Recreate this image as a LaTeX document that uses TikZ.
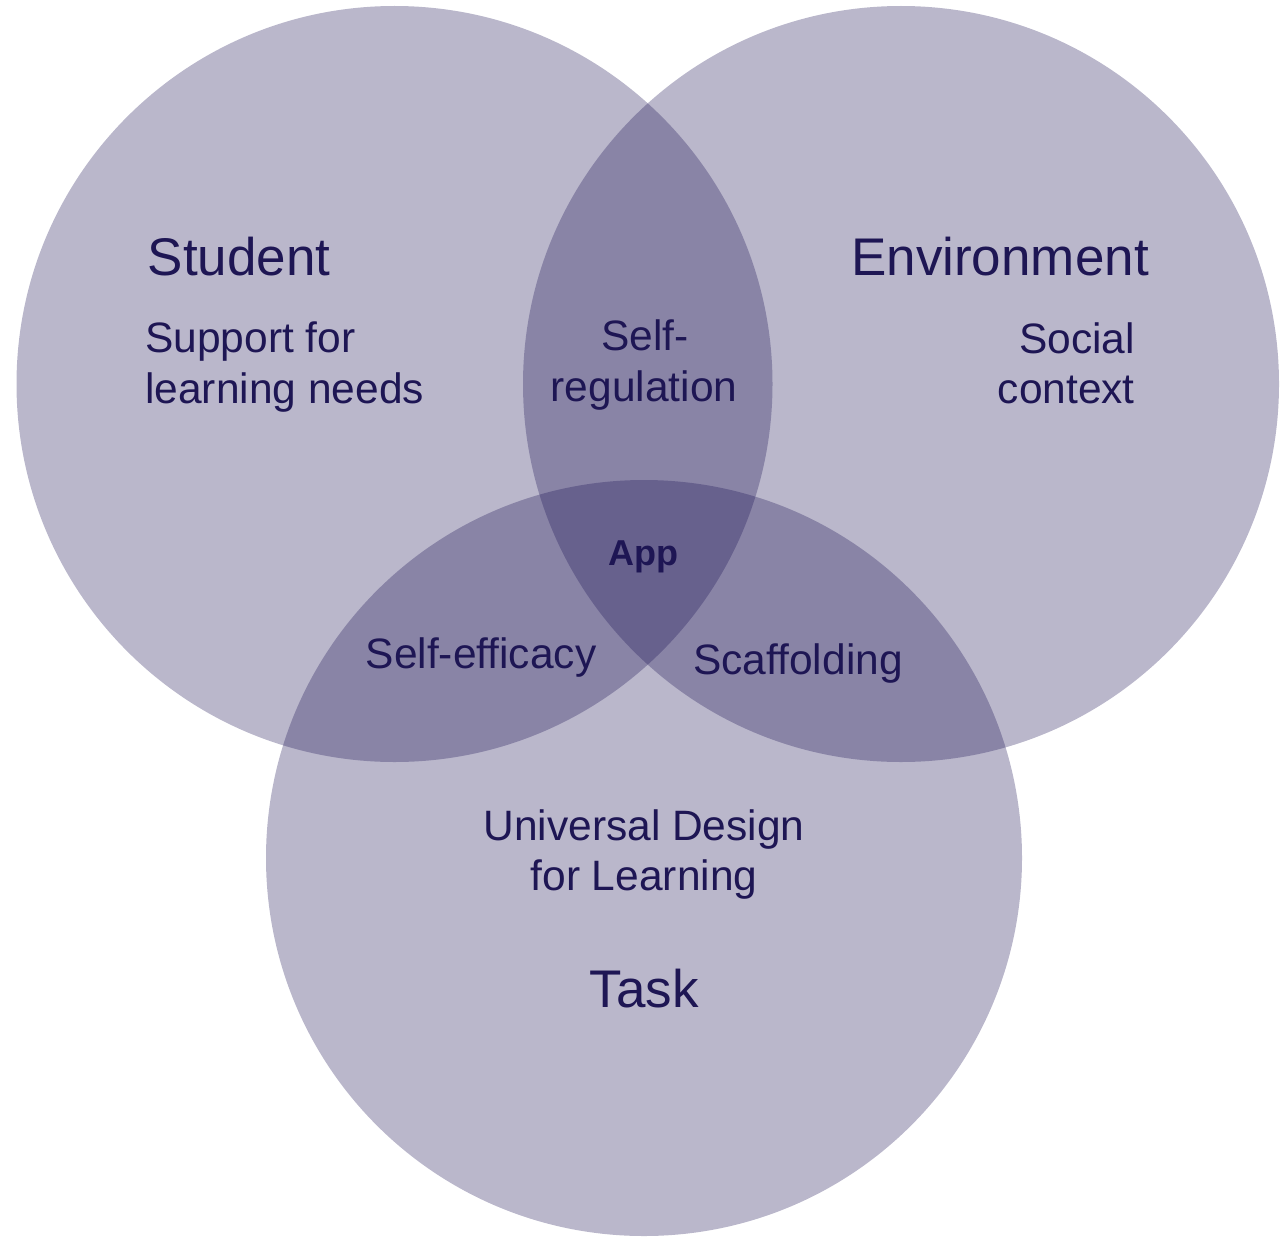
\documentclass[tikz,border=0pt]{standalone}
\usepackage{fontspec}
\setmainfont{Liberation Sans}
\begin{document}
\definecolor{vennfill}{RGB}{25,15,82}
\definecolor{venntext}{RGB}{30,22,84}
\begin{tikzpicture}[x=1pt,y=-1pt,
  setcircle/.style={circle,fill=vennfill,fill opacity=0.3,inner sep=0pt,minimum size=756pt},
  title/.style={text=venntext,inner sep=0pt,anchor=base,font=\fontsize{53}{60}\selectfont},
  lbl/.style={text=venntext,inner sep=0pt,font=\fontsize{42.5}{51}\selectfont},
  lblline/.style={lbl,anchor=base}]
  \useasboundingbox (0,0) rectangle (1281,1236);
  % the three overlapping sets
  \node[setcircle] (student) at (394.5,384) {};
  \node[setcircle] (environment) at (901,384) {};
  \node[setcircle] (task) at (644,858) {};
  % set titles
  \node[title] (tstudent) at (239,275) {Student};
  \node[title] (tenv) at (1000,275) {Environment};
  \node[title] (ttask) at (644,1007) {Task};
  % set contents
  \node[lblline,anchor=base west] (sup1) at (145,352) {Support for};
  \node[lblline,anchor=base west] (sup2) at (145,403) {learning needs};
  \node[lblline,anchor=base east] (soc1) at (1135,353) {Social};
  \node[lblline,anchor=base east] (soc2) at (1135,403) {context};
  \node[lblline] (udl1) at (644,840) {Universal Design};
  \node[lblline] (udl2) at (644,890) {for Learning};
  % pairwise overlaps
  \node[lblline] (sr1) at (645,350) {Self-};
  \node[lblline] (sr2) at (644,401) {regulation};
  \node[lblline] (se) at (481,668) {Self-efficacy};
  \node[lblline] (sc) at (798,674) {Scaffolding};
  % centre
  \node[text=venntext,inner sep=0pt,anchor=base,font=\fontsize{36}{42}\selectfont\bfseries] (app) at (643,565) {App};
\end{tikzpicture}
\end{document}
